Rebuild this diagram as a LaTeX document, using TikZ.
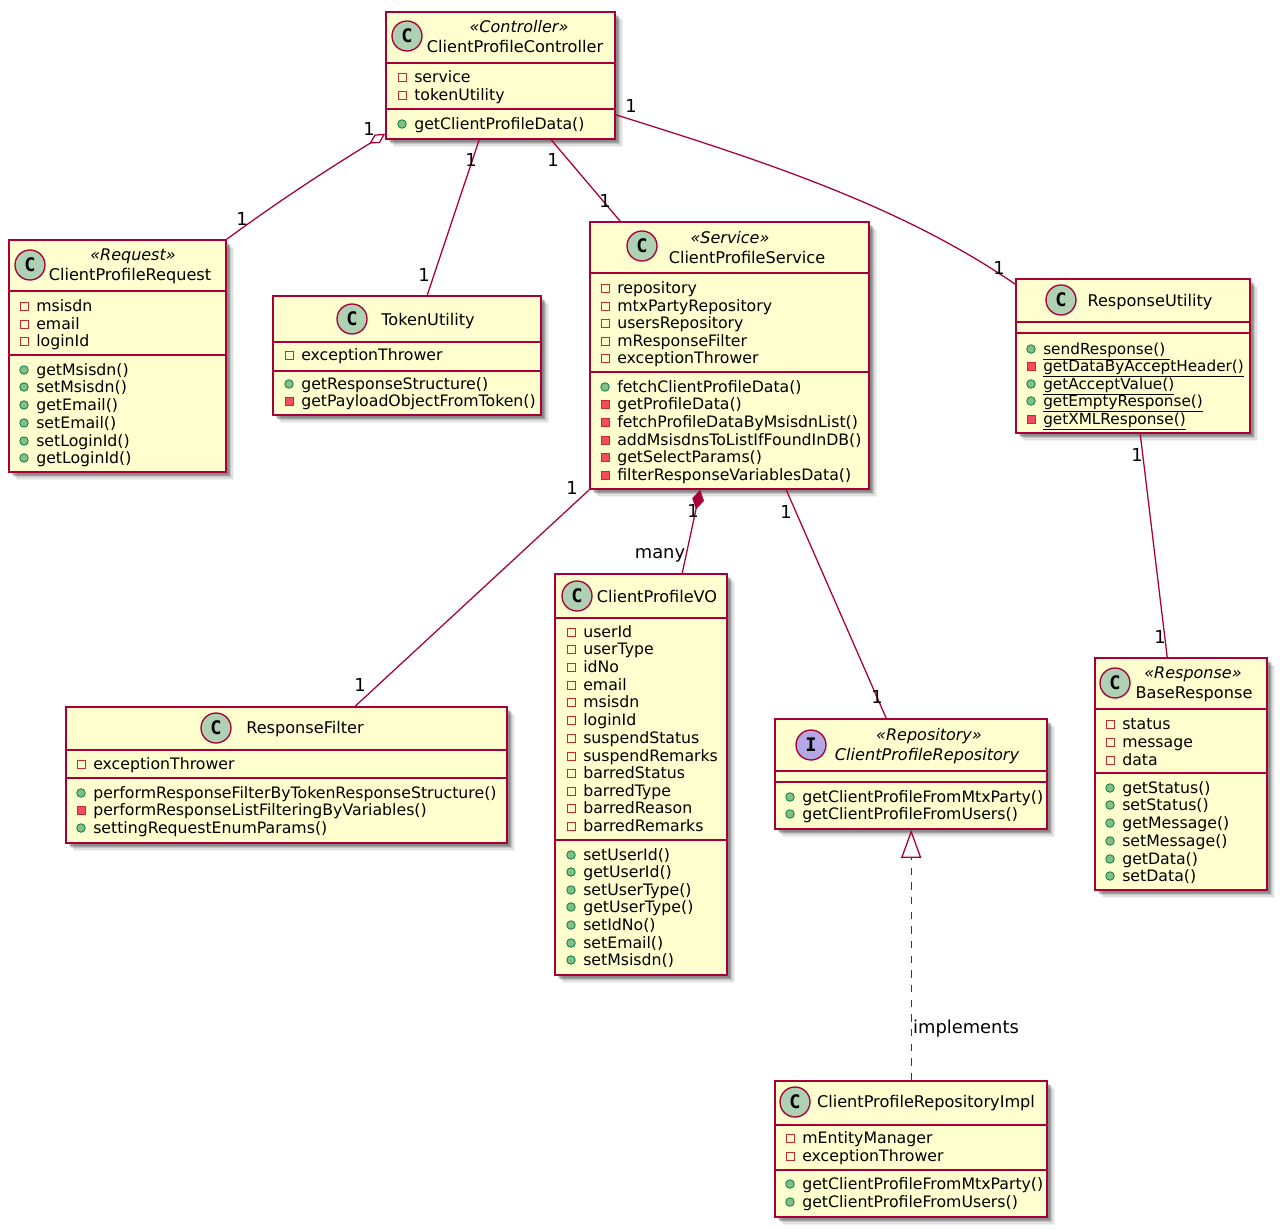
\documentclass[tikz,border=0pt]{standalone}
\usepackage{fontspec}
\setmainfont{DejaVu Sans}
\setmonofont{DejaVu Sans Mono}
\usetikzlibrary{arrows.meta,fit,shadows}

\definecolor{umlLine}{HTML}{A80036}
\definecolor{umlFill}{HTML}{FEFECE}
\definecolor{classCircle}{HTML}{ADD1B2}
\definecolor{ifaceCircle}{HTML}{B4A7E5}
\definecolor{privLine}{HTML}{C82930}
\definecolor{privFill}{HTML}{F24D5C}
\definecolor{pubLine}{HTML}{038048}
\definecolor{pubFill}{HTML}{84BE84}

\tikzset{
    classbox/.style={draw=umlLine, fill=umlFill, line width=1.2pt, inner sep=0pt,
        general shadow={shadow xshift=2pt, shadow yshift=-2pt, fill=black, opacity=.16},
        general shadow={shadow xshift=3pt, shadow yshift=-3pt, fill=black, opacity=.16},
        general shadow={shadow xshift=4pt, shadow yshift=-4pt, fill=black, opacity=.12},
        general shadow={shadow xshift=5pt, shadow yshift=-5pt, fill=black, opacity=.08},
        general shadow={shadow xshift=6pt, shadow yshift=-6pt, fill=black, opacity=.05}},
    classline/.style={draw=umlLine, line width=1pt},
    conn/.style={draw=umlLine, line width=.95pt},
    badge/.style={circle, draw=umlLine, line width=1pt, minimum size=22.5pt, inner sep=0pt,
        font=\fontsize{14}{14}\ttfamily\bfseries},
    classname/.style={inner sep=0pt, font=\fontsize{12.1}{14}\selectfont},
    stereo/.style={inner sep=0pt, font=\fontsize{12}{14}\itshape},
    memtext/.style={anchor=base west, inner sep=0pt, font=\fontsize{11.8}{14}\selectfont},
    lbl/.style={inner sep=0pt, font=\fontsize{13.4}{16}\selectfont},
    privfield/.style={rectangle, draw=privLine, line width=.6pt, minimum size=6pt, inner sep=0pt},
    privmethod/.style={rectangle, draw=privLine, fill=privFill, line width=.6pt, minimum size=6pt, inner sep=0pt},
    pubmethod/.style={circle, draw=pubLine, fill=pubFill, line width=.6pt, minimum size=6.4pt, inner sep=0pt},
}

\newcounter{memno}
% kind, x, y, text
\newcommand{\member}[4]{%
    \stepcounter{memno}%
    \node[#1] (icon\arabic{memno}) at (#2,#3) {};
    \node[memtext] (mem\arabic{memno}) at ([shift={(12,5.6)}]icon\arabic{memno}.center) {#4};
}
% name, x1, y1, x2, y2, first and second separator
\newcommand{\classbox}[7]{%
    \node[classbox, fit={(#2,#3) (#4,#5)}] (#1) {};
    \draw[classline] (#2,#6) -- (#4,#6);
    \draw[classline] (#2,#7) -- (#4,#7);
}
% static members are a little narrower
\newcommand{\staticmem}[1]{\fontsize{11.45}{14}\selectfont\underline{#1}}

\begin{document}
\begin{tikzpicture}[x=0.75pt, y=-0.75pt]
    \useasboundingbox (0,0) rectangle (1280,1230);

    % ClientProfileController
    \classbox{controller}{386}{12}{615}{139}{63}{109}
    \node[badge, fill=classCircle] (controllerC) at (407,36) {C};
    \node[stereo] (controllerS) at (519,27) {«Controller»};
    \node[classname] (controllerN) at (515,46) {ClientProfileController};
    \foreach \y/\t in {77/service, 95/tokenUtility} {\member{privfield}{402}{\y}{\t}}
    \member{pubmethod}{402}{124}{getClientProfileData()}

    % ClientProfileRequest
    \classbox{request}{9}{240}{226}{472}{291}{355}
    \node[badge, fill=classCircle] (requestC) at (30,265) {C};
    \node[stereo] (requestS) at (133,256) {«Request»};
    \node[classname] (requestN) at (130,276) {ClientProfileRequest};
    \foreach \y/\t in {306/msisdn, 324/email, 341/loginId} {\member{privfield}{24}{\y}{\t}}
    \foreach \y/\t in {370/getMsisdn(), 387/setMsisdn(), 405/getEmail(), 423/setEmail(), 441/setLoginId(), 458/getLoginId()} {\member{pubmethod}{24}{\y}{\t}}

    % TokenUtility
    \classbox{tokenUtility}{273}{296}{541}{415}{342}{371}
    \node[badge, fill=classCircle] (tokenUtilityC) at (352,319) {C};
    \node[classname] (tokenUtilityN) at (428,321) {TokenUtility};
    \member{privfield}{289}{355}{exceptionThrower}
    \member{pubmethod}{289}{384}{getResponseStructure()}
    \member{privmethod}{289}{401}{getPayloadObjectFromToken()}

    % ClientProfileService
    \classbox{service}{590}{222}{869}{489}{273}{372}
    \node[badge, fill=classCircle] (serviceC) at (642,246) {C};
    \node[stereo] (serviceS) at (730,238) {«Service»};
    \node[classname] (serviceN) at (747,257) {ClientProfileService};
    \foreach \y/\t in {288/repository, 306/mtxPartyRepository, 323/usersRepository, 341/mResponseFilter, 358/exceptionThrower} {\member{privfield}{605}{\y}{\t}}
    \member{pubmethod}{605}{387}{fetchClientProfileData()}
    \foreach \y/\t in {404/getProfileData(), 422/fetchProfileDataByMsisdnList(), 440/addMsisdnsToListIfFoundInDB(), 457/getSelectParams(), 475/filterResponseVariablesData()} {\member{privmethod}{605}{\y}{\t}}

    % ResponseUtility
    \classbox{responseUtility}{1016}{279}{1250}{433}{322}{333}
    \node[badge, fill=classCircle] (responseUtilityC) at (1061,300) {C};
    \node[classname] (responseUtilityN) at (1150,302) {ResponseUtility};
    \foreach \y/\t in {349/sendResponse()\,\,, 384/getAcceptValue(), 401/getEmptyResponse()} {\member{pubmethod}{1031}{\y}{\staticmem{\t}}}
    \foreach \y/\t in {366/getDataByAcceptHeader(), 419/getXMLResponse()} {\member{privmethod}{1031}{\y}{\staticmem{\t}}}

    % ResponseFilter
    \classbox{responseFilter}{66}{707}{507}{843}{750}{778}
    \node[badge, fill=classCircle] (responseFilterC) at (216,728) {C};
    \node[classname] (responseFilterN) at (305,729) {ResponseFilter};
    \member{privfield}{81}{764}{exceptionThrower}
    \member{pubmethod}{81}{793}{performResponseFilterByTokenResponseStructure()}
    \member{privmethod}{81}{810}{performResponseListFilteringByVariables()}
    \member{pubmethod}{81}{828}{settingRequestEnumParams()}

    % ClientProfileVO
    \classbox{profileVO}{555}{574}{727}{975}{618}{840}
    \node[badge, fill=classCircle] (profileVOC) at (577,596) {C};
    \node[classname] (profileVON) at (657,596) {ClientProfileVO};
    \foreach \y/\t in {632/userId, 649/userType, 667/idNo, 685/email, 702/msisdn, 720/loginId, 738/suspendStatus, 756/suspendRemarks, 773/barredStatus, 791/barredType, 808/barredReason, 826/barredRemarks} {\member{privfield}{571}{\y}{\t}}
    \foreach \y/\t in {855/setUserId(), 872/getUserId(), 890/setUserType(), 907/getUserType(), 925/setIdNo(), 943/setEmail(), 960/setMsisdn()} {\member{pubmethod}{571}{\y}{\t}}

    % ClientProfileRepository
    \classbox{repository}{775}{719}{1047}{829}{771}{782}
    \node[badge, fill=ifaceCircle] (repositoryC) at (811,745) {I};
    \node[stereo] (repositoryS) at (929,736) {«Repository»};
    \node[classname, font=\fontsize{12.1}{14}\itshape] (repositoryN) at (927,756) {ClientProfileRepository};
    \foreach \y/\t in {797/getClientProfileFromMtxParty(), 814/getClientProfileFromUsers()} {\member{pubmethod}{790}{\y}{\t}}

    % BaseResponse
    \classbox{baseResponse}{1095}{658}{1267}{890}{709}{773}
    \node[badge, fill=classCircle] (baseResponseC) at (1115,683) {C};
    \node[stereo] (baseResponseS) at (1193,674) {«Response»};
    \node[classname] (baseResponseN) at (1194,694) {BaseResponse};
    \foreach \y/\t in {724/status, 742/message, 760/data} {\member{privfield}{1110}{\y}{\t}}
    \foreach \y/\t in {788/getStatus(), 805/setStatus(), 823/getMessage(), 841/setMessage(), 859/getData(), 876/setData()} {\member{pubmethod}{1110}{\y}{\t}}

    % ClientProfileRepositoryImpl
    \classbox{repositoryImpl}{775}{1081}{1047}{1217}{1125}{1170}
    \node[badge, fill=classCircle] (repositoryImplC) at (795,1102) {C};
    \node[classname] (repositoryImplN) at (926,1103) {ClientProfileRepositoryImpl};
    \foreach \y/\t in {1138/mEntityManager, 1156/exceptionThrower} {\member{privfield}{790}{\y}{\t}}
    \foreach \y/\t in {1184/getClientProfileFromMtxParty(), 1202/getClientProfileFromUsers()} {\member{pubmethod}{790}{\y}{\t}}

    % Connectors
    \draw[conn, {Diamond[open, length=14pt, width=7.5pt]}-] ([shift={(0,-6)}]controller.south west) .. controls (335,165) and (290,193) .. (request.north east);
    \draw[conn] ([shift={(94,0)}]controller.south west) -- ([shift={(155,0)}]tokenUtility.north west);
    \draw[conn] ([shift={(166,0)}]controller.south west) -- ([shift={(31,0)}]service.north west);
    \draw[conn] ([shift={(0,-25)}]controller.south east) .. controls (760,160) and (900,205) .. ([shift={(0,6)}]responseUtility.north west);
    \draw[conn] (service.south west) -- ([shift={(290,0)}]responseFilter.north west);
    \draw[conn, {Diamond[length=15pt, width=9pt]}-] ([shift={(111,0)}]service.south west) -- ([shift={(128,0)}]profileVO.north west);
    \draw[conn] ([shift={(197,0)}]service.south west) -- ([shift={(112,0)}]repository.north west);
    \draw[conn] ([shift={(125,0)}]responseUtility.south west) -- ([shift={(73,0)}]baseResponse.north west);
    \draw[conn, dash pattern=on 5.5pt off 5.5pt, -{Triangle[open, length=21pt, width=15pt]}] ([shift={(137,0)}]repositoryImpl.north west) -- ([shift={(137,0)}]repository.south west);

    % Connector labels
    \node[lbl] (lblA) at (369,129) {1};
    \node[lbl] (lblB) at (242,219) {1};
    \node[lbl] (lblC) at (471,160) {1};
    \node[lbl] (lblD) at (424,275) {1};
    \node[lbl] (lblE) at (553,160) {1};
    \node[lbl] (lblF) at (605,201) {1};
    \node[lbl] (lblG) at (631,106) {1};
    \node[lbl] (lblH) at (999,268) {1};
    \node[lbl] (lblI) at (572,488) {1};
    \node[lbl] (lblJ) at (360,685) {1};
    \node[lbl] (lblK) at (693,511) {1};
    \node[lbl] (lblL) at (660,555) {many};
    \node[lbl] (lblM) at (786,512) {1};
    \node[lbl] (lblN) at (877,697) {1};
    \node[lbl] (lblO) at (1137,455) {1};
    \node[lbl] (lblP) at (1160,637) {1};
    \node[lbl] (lblQ) at (966,1029) {implements};
\end{tikzpicture}
\end{document}
